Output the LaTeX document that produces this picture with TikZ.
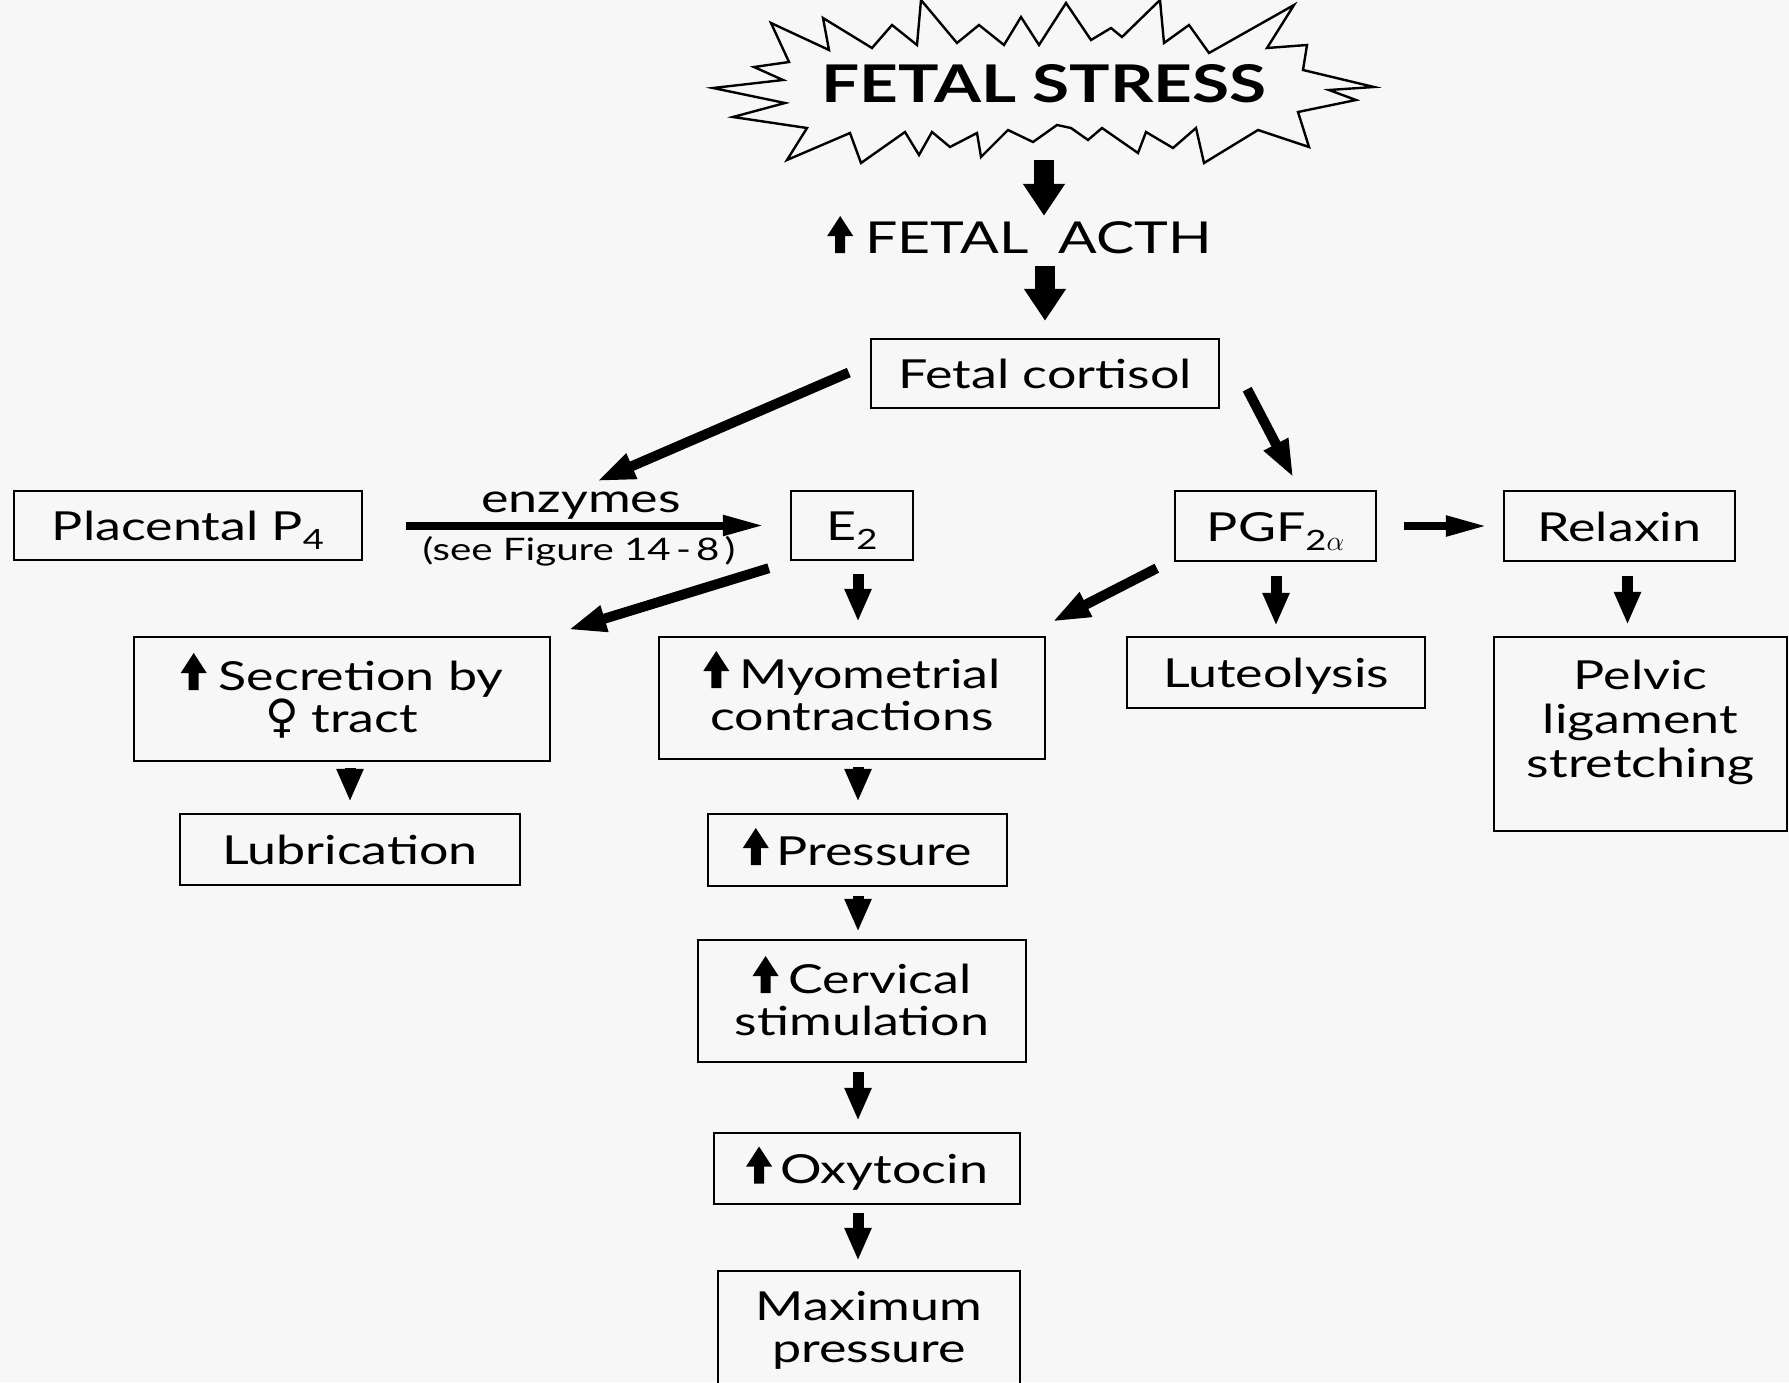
\RequirePackage{fix-cm}
\documentclass[tikz,border=0pt]{standalone}
\usepackage{fontspec}
\setmainfont[FakeStretch=1.3]{Lato}
\newfontfamily\symfont{DejaVu Sans}
\usetikzlibrary{arrows.meta,calc}
\newcommand{\upar}{\tikz[baseline=0pt,x=1pt,y=1pt]\fill (-5,0) rectangle (5,20) (-13,17) -- (0,37) -- (13,17) -- cycle;}
\newcommand{\venus}{{\symfont\fontsize{46}{42}\selectfont ♀}}
\newcommand{\subs}[1]{\raisebox{-9pt}{\fontsize{28}{28}\selectfont #1}}
\begin{document}
\begin{tikzpicture}[x=1pt,y=-1pt,
  box/.style={draw,line width=2.4pt,inner sep=0pt,align=center,text height=30pt,text depth=0pt,font=\fontsize{40}{42}\selectfont},
  lbl/.style={inner sep=0pt,font=\fontsize{40}{42}\selectfont},
  bigarr/.style={line width=20pt,-{Triangle[length=32pt,width=40pt]}},
  vararr/.style={line width=11pt,-{Triangle[length=33pt,width=25pt]}},
  diagarr/.style={line width=10pt,-{Triangle[length=38pt,width=25pt]}},
  harr/.style={line width=8pt,-{Triangle[length=42pt,width=19pt]}},
  ]
\fill[gray!6] (0,0) rectangle (1789,1382);
\useasboundingbox (0,0) rectangle (1789,1382);
\clip (0,0) rectangle (1789,1382);
% star
\draw[line width=2.4pt] (771,23) -- (829,50) -- (823,18) -- (872,48) -- (892,25) -- (917,45) -- (921,0) -- (957,43) -- (979,25) -- (1004,45) -- (1021,17) -- (1039,45) -- (1066,3) -- (1091,40) -- (1111,28) -- (1122,37) -- (1160,0) -- (1164,43) -- (1189,25) -- (1209,53) -- (1294,5) -- (1267,48) -- (1307,45) -- (1303,70) -- (1374,87) -- (1329,90) -- (1356,100) -- (1298,112) -- (1309,147) -- (1258,130) -- (1204,163) -- (1196,128) -- (1173,148) -- (1146,132) -- (1138,153) -- (1102,128) -- (1088,140) -- (1071,128) -- (1057,125) -- (1033,142) -- (1008,130) -- (981,157) -- (977,133) -- (950,147) -- (932,132) -- (919,155) -- (905,132) -- (861,163) -- (850,133) -- (787,160) -- (807,128) -- (733,117) -- (785,103) -- (713,88) -- (783,80) -- (754,67) -- (789,62) -- cycle;
\node[inner sep=0pt,anchor=base,font=\fontsize{52}{52}\selectfont\bfseries] (stress) at (1044,102) {FETAL STRESS};
\coordinate (starS) at (1044,160);
\node[inner sep=0pt,anchor=base west,font=\fontsize{44}{44}\selectfont] (acth) at (827,253) {\upar\hspace{12pt}FETAL\hspace{30pt}ACTH};
\coordinate (col) at (858,0);
% boxes
\node[box,minimum width=348pt,minimum height=69pt] (cortisol) at (1045,373.5) {Fetal cortisol};
\node[box,minimum width=348pt,minimum height=69pt] (placental) at (188,525.5) {Placental P\subs{4}};
\node[box,minimum width=122pt,minimum height=69pt] (e2) at (852,525.5) {E\subs{2}};
\node[box,minimum width=201pt,minimum height=70pt] (pgf) at (1275.5,526) {PGF\subs{2$\alpha$}};
\node[box,minimum width=231pt,minimum height=70pt] (relaxin) at (1619.5,526) {Relaxin};
\node[box,minimum width=416pt,minimum height=124pt,text height=66pt] (secretion) at (342,699) {\upar\hspace{12pt}Secretion by\\\venus\hspace{12pt}tract};
\node[box,minimum width=386pt,minimum height=122pt,text height=64pt] (myo) at (852,698) {\upar\hspace{10pt}Myometrial\\contractions};
\node[box,minimum width=298pt,minimum height=71pt] (luteo) at (1276,672.5) {Luteolysis};
\node[box,minimum width=293pt,minimum height=194pt,text height=86pt,font=\fontsize{40}{44}\selectfont] (pelvic) at (1640.5,734) {Pelvic\\ligament\\stretching};
\node[box,minimum width=340pt,minimum height=71pt] (lub) at (350,849.5) {Lubrication};
\node[box,minimum width=299pt,minimum height=72pt] (pressure) at (857.5,850) {\upar\hspace{8pt}Pressure};
\node[box,minimum width=328pt,minimum height=122pt,text height=68pt] (cervical) at (862,1001) {\upar\hspace{10pt}Cervical\\stimulation};
\node[box,minimum width=306pt,minimum height=71pt] (oxy) at (867,1168.5) {\upar\hspace{8pt}Oxytocin};
\node[box,minimum width=302pt,minimum height=130pt,text height=52pt] (maxp) at (869,1336) {Maximum\\pressure};
% labels
\node[lbl,anchor=base] (enz) at (581,512) {enzymes};
\node[inner sep=0pt,anchor=base,font=\fontsize{31}{31}\selectfont] (seefig) at (579,560) {(see Figure 14\,-\,8\,)};
\coordinate (rx) at ($(relaxin.south)+(8,0)$);
% arrows
\draw[bigarr] (starS) -- (starS |- acth.north) ;
\draw[bigarr,shorten <=12pt,shorten >=17pt] (cortisol.north |- acth.south) -- (cortisol.north);
\draw[diagarr] ($(cortisol.west)+(-21,-1)$) -- ($(enz.north)+(16,-10)$);
\draw[harr,shorten <=43pt,shorten >=25pt] (placental.east |- e2.west) -- (e2.west);
\draw[diagarr] ($(cortisol.south east)+(27,-20)$) -- ($(pgf.north)+(18,-12)$);
\draw[harr,shorten <=27pt,shorten >=15pt] (pgf.east) -- (relaxin.west);
\draw[diagarr] ($(e2.south west)+(-21,7)$) -- ($(secretion.north east)+(17,-6)$);
\draw[vararr,shorten <=13pt,shorten >=14pt] (col |- e2.south) -- (col |- myo.north);
\draw[diagarr] ($(pgf.south west)+(-17,6)$) -- ($(myo.north east)+(6,-14)$);
\draw[vararr,shorten <=14pt,shorten >=10pt] (luteo.north |- pgf.south) -- (luteo.north);
\draw[vararr,shorten <=14pt,shorten >=11pt] (rx) -- (rx |- pelvic.north);
\draw[vararr,shorten <=6pt,shorten >=11pt] (lub.north |- secretion.south) -- (lub.north);
\draw[vararr,shorten <=7pt,shorten >=11pt] (col |- myo.south) -- (col |- pressure.north);
\draw[vararr,shorten <=9pt,shorten >=7pt] (col |- pressure.south) -- (col |- cervical.north);
\draw[vararr,shorten <=9pt,shorten >=11pt] (col |- cervical.south) -- (col |- oxy.north);
\draw[vararr,shorten <=8pt,shorten >=9pt] (col |- oxy.south) -- (col |- maxp.north);
\end{tikzpicture}
\end{document}
